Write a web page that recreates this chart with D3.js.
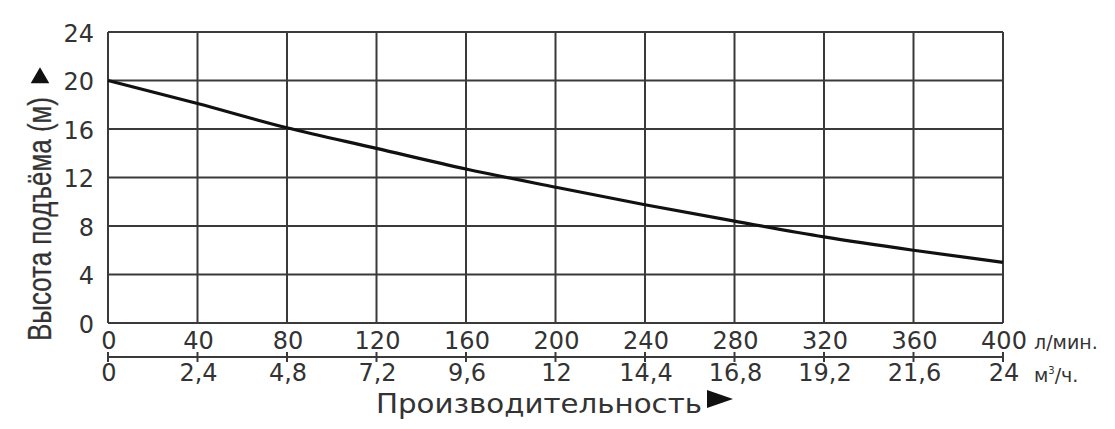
<!DOCTYPE html>
<html>
<head>
<meta charset="utf-8">
<script src="https://cdn.jsdelivr.net/npm/d3@7"></script>
<style>
  body { margin: 0; background: #fff; }
  text { font-family: "DejaVu Sans", Verdana, sans-serif; fill: #333; }
</style>
</head>
<body>
<div id="chart"></div>
<script>
// data
var flowLpm = [0, 40, 80, 120, 160, 200, 240, 280, 320, 360, 400];
var headM = [20, 18.1, 16.1, 14.4, 12.7, 11.2, 9.75, 8.4, 7.1, 6.0, 5.0];
var yTicks = [0, 4, 8, 12, 16, 20, 24];
var m3Ticks = ['0', '2,4', '4,8', '7,2', '9,6', '12', '14,4', '16,8', '19,2', '21,6', '24'];

var W = 1115, H = 429;
var margin = {top: 32, left: 108, right: 112, bottom: 106};
var width = W - margin.left - margin.right;
var height = H - margin.top - margin.bottom;

var svg = d3.select('#chart').append('svg')
    .attr('width', W)
    .attr('height', H);

var g = svg.append('g')
    .attr('transform', 'translate(' + margin.left + ',' + margin.top + ')');

var xScale = d3.scaleLinear().domain([0, 400]).range([0, width]);
var yScale = d3.scaleLinear().domain([0, 24]).range([height, 0]);

// grid
g.selectAll('line.vgrid')
    .data(flowLpm)
    .enter()
    .append('line')
        .attr('class', 'vgrid')
        .attr('x1', function(d){ return xScale(d); })
        .attr('x2', function(d){ return xScale(d); })
        .attr('y1', 0)
        .attr('y2', height)
        .style('stroke', '#3a3a3a')
        .style('stroke-width', 2);

g.selectAll('line.hgrid')
    .data(yTicks)
    .enter()
    .append('line')
        .attr('class', 'hgrid')
        .attr('x1', 0)
        .attr('x2', width)
        .attr('y1', function(d){ return yScale(d); })
        .attr('y2', function(d){ return yScale(d); })
        .style('stroke', '#3a3a3a')
        .style('stroke-width', 2);

// y tick labels
g.selectAll('text.ylab')
    .data(yTicks)
    .enter()
    .append('text')
        .attr('class', 'ylab')
        .attr('x', -14)
        .attr('y', function(d){ return yScale(d); })
        .attr('dy', '0.4em')
        .attr('text-anchor', 'end')
        .style('font-size', '24px')
        .text(function(d){ return d; });

// x tick labels, l/min
g.selectAll('text.xlab')
    .data(flowLpm)
    .enter()
    .append('text')
        .attr('class', 'xlab')
        .attr('x', function(d){ return xScale(d) + 1; })
        .attr('y', height + 26)
        .attr('text-anchor', 'middle')
        .style('font-size', '24px')
        .text(function(d){ return d; });

// second axis, m3/h
var m3Scale = d3.scaleLinear().domain([0, 24]).range([0, width]);
var axis2 = g.append('g')
    .attr('transform', 'translate(0,' + (height + 34) + ')');
axis2.append('line')
    .attr('x1', 0).attr('x2', width)
    .attr('y1', 0).attr('y2', 0)
    .style('stroke', '#3a3a3a')
    .style('stroke-width', 2);
axis2.selectAll('line.tick')
    .data(m3Ticks)
    .enter()
    .append('line')
        .attr('class', 'tick')
        .attr('x1', function(d, i){ return m3Scale(i * 2.4); })
        .attr('x2', function(d, i){ return m3Scale(i * 2.4); })
        .attr('y1', -5)
        .attr('y2', 5)
        .style('stroke', '#3a3a3a')
        .style('stroke-width', 2);
axis2.selectAll('text')
    .data(m3Ticks)
    .enter()
    .append('text')
        .attr('x', function(d, i){ return m3Scale(i * 2.4) + 1; })
        .attr('y', 24)
        .attr('text-anchor', 'middle')
        .style('font-size', '24px')
        .text(function(d){ return d; });

// units
g.append('text')
    .attr('x', width + 31)
    .attr('y', height + 26)
    .style('font-size', '19px')
    .text('л/мин.');
var u2 = g.append('text')
    .attr('x', width + 31)
    .attr('y', height + 59)
    .style('font-size', '19px');
u2.append('tspan').text('м');
u2.append('tspan').attr('dy', -8).style('font-size', '10px').text('3');
u2.append('tspan').attr('dy', 8).text('/ч.');

// the curve
var line = d3.line()
    .x(function(d, i){ return xScale(flowLpm[i]); })
    .y(function(d){ return yScale(d); })
    .curve(d3.curveMonotoneX);

g.append('path')
    .datum(headM)
    .attr('d', line)
    .style('fill', 'none')
    .style('stroke', '#111')
    .style('stroke-width', 3.2);

// y axis title (rotated)
svg.append('text')
    .attr('transform', 'translate(51,341) rotate(-90)')
    .attr('textLength', 244)
    .attr('lengthAdjust', 'spacingAndGlyphs')
    .style('font-family', '"Liberation Sans", Arial, sans-serif')
    .style('font-size', '34px')
    .style('stroke', '#333')
    .style('stroke-width', 0.25)
    .text('Высота подъёма (м)');
svg.append('path')
    .attr('d', d3.symbol().type(d3.symbolTriangle).size(150)())
    .attr('transform', 'translate(40,78)')
    .style('fill', '#111');

// x axis title
svg.append('text')
    .attr('x', 376)
    .attr('y', 413)
    .attr('textLength', 326)
    .attr('lengthAdjust', 'spacingAndGlyphs')
    .style('font-size', '27px')
    .text('Производительность');
svg.append('path')
    .attr('d', 'M707,390 L733,399 L707,408 Z')
    .style('fill', '#111');
</script>
</body>
</html>
